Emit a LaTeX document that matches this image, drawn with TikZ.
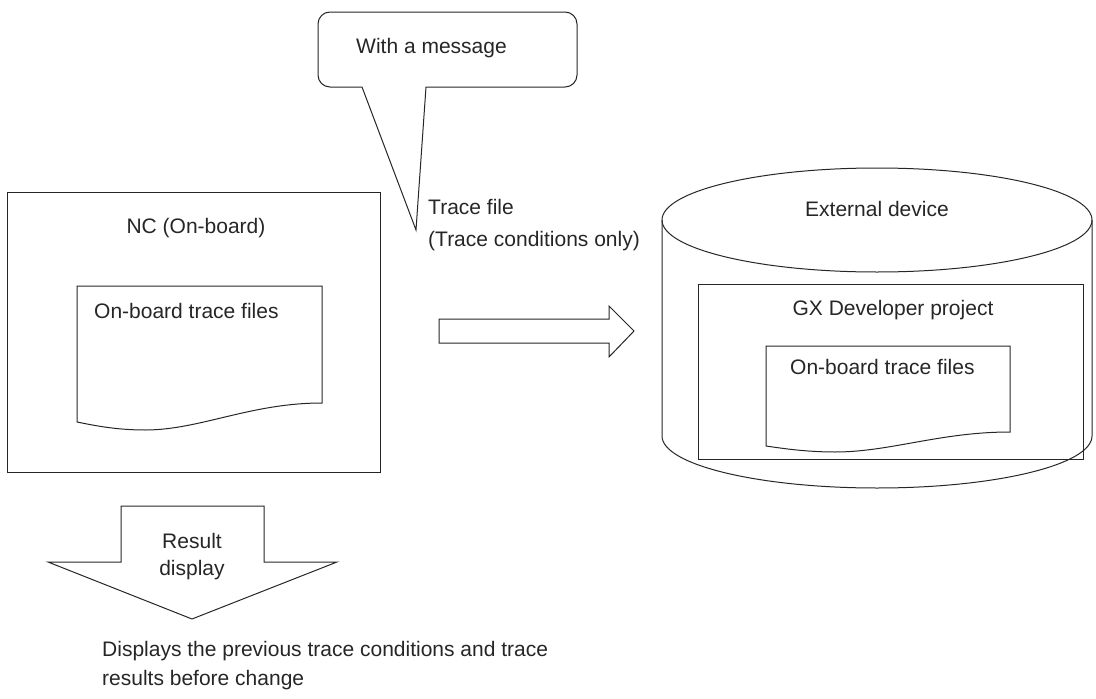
\documentclass[tikz,border=0pt]{standalone}
\usepackage{fontspec}
\setmainfont{Liberation Sans}
\begin{document}
\begin{tikzpicture}[x=1pt,y=-1pt,
  shp/.style={draw=black!85,line width=1pt,line join=miter},
  lbl/.style={inner sep=0pt,text=black!85,font=\fontsize{21}{25}\selectfont}]
\useasboundingbox (0,0) rectangle (1096,699);
% callout
\draw[shp] (416,230) -- (362,87) -- (330,87) arc[start angle=90,end angle=180,radius=12]
  -- (318,24) arc[start angle=180,end angle=270,radius=12]
  -- (565,12) arc[start angle=270,end angle=360,radius=12]
  -- (577,75) arc[start angle=0,end angle=90,radius=12]
  -- (426,87) -- cycle;
\node[lbl,anchor=west] (msg) at (356,48) {With a message};
\node[lbl,anchor=west,align=left,font=\fontsize{21}{32}\selectfont] (tf) at (428,225) {Trace file\\(Trace conditions only)};
% NC box
\draw[shp] (7,192) rectangle (380,472);
\node[lbl] (nc) at (196,228) {NC (On-board)};
\draw[shp] (322,403) -- (322,286) -- (77,286) -- (77,422)
  .. controls (92,425) and (115,430) .. (145,430)
  .. controls (200,430) and (250,403) .. (322,403) -- cycle;
\node[lbl,anchor=west] (of1) at (94,311) {On-board trace files};
% right arrow
\draw[shp] (439,319) -- (609,319) -- (609,306) -- (634,331) -- (609,357) -- (609,343) -- (439,343) -- cycle;
% cylinder
\draw[shp] (877,220) ellipse[x radius=215,y radius=52];
\draw[shp] (662,220) -- (662,436) arc[start angle=180,end angle=0,x radius=215,y radius=52] -- (1092,220);
\node[lbl] (ext) at (877,209) {External device};
\draw[shp] (698,284) rectangle (1083,459);
\node[lbl] (gx) at (893,310) {GX Developer project};
\draw[shp] (1010,432) -- (1010,346) -- (766,346) -- (766,446)
  .. controls (780,448) and (805,452) .. (835,452)
  .. controls (890,452) and (940,432) .. (1010,432) -- cycle;
\node[lbl,anchor=west] (of2) at (790,367) {On-board trace files};
% down arrow
\draw[shp] (121,506) -- (264,506) -- (264,562) -- (337,562) -- (192,619) -- (48,562) -- (121,562) -- cycle;
\node[lbl,align=center,font=\fontsize{21}{27}\selectfont] (res) at (192,557) {Result\\display};
\node[lbl,anchor=west,align=left,font=\fontsize{21}{29}\selectfont] (disp) at (102,666) {Displays the previous trace conditions and trace\\results before change};
\end{tikzpicture}
\end{document}
